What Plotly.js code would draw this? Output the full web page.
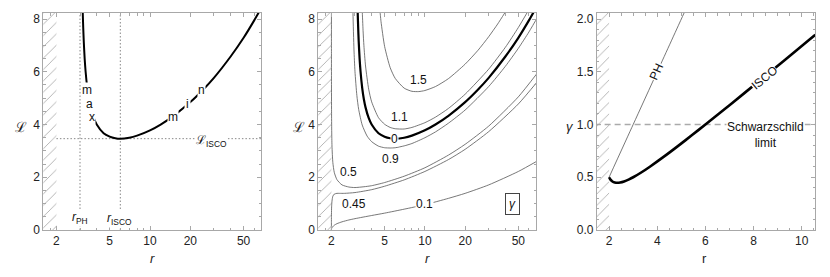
<!DOCTYPE html>
<html><head><meta charset="utf-8">
<script src="https://cdn.plot.ly/plotly-3.0.1.min.js"></script>
<style>body{margin:0;background:#fff}#plot{width:830px;height:277px}</style>
</head><body><div id="plot"></div>
<script>
// ---------- data ----------
// Panel 1 & 2: angular momentum L of circular orbits vs r, gamma = 1 (Schwarzschild)
const g1R = [3.14, 3.15, 3.17, 3.2, 3.25, 3.3, 3.4, 3.5, 3.6, 3.8, 4, 4.5, 5, 5.5, 6, 7, 8, 10, 12, 15, 20, 25, 30, 40, 50, 60, 70];
const g1L = [8.39, 8.13, 7.69, 7.16, 6.50, 6.03, 5.38, 4.95, 4.65, 4.25, 4.00, 3.67, 3.54, 3.48, 3.46, 3.50, 3.58, 3.78, 4.00, 4.33, 4.85, 5.33, 5.77, 6.58, 7.29, 7.95, 8.55];
// Panel 2 contours of gamma
const g15R = [4.6, 4.65, 4.7, 5, 5.5, 6, 7, 8, 9, 10, 12, 15, 20, 25, 30, 35, 40];
const g15L = [8.39, 8.13, 7.90, 6.96, 6.16, 5.75, 5.38, 5.26, 5.25, 5.29, 5.44, 5.74, 6.29, 6.82, 7.33, 7.81, 8.27];
const g11R = [3.38, 3.4, 3.45, 3.5, 3.6, 3.8, 4, 4.5, 5, 5.5, 6, 7, 8, 10, 12, 15, 20, 30, 40, 50, 60];
const g11L = [8.74, 8.34, 7.56, 6.99, 6.22, 5.34, 4.86, 4.26, 4.01, 3.89, 3.84, 3.83, 3.89, 4.07, 4.28, 4.61, 5.15, 6.10, 6.93, 7.68, 8.36];
const g09R = [2.88, 2.9, 2.95, 3, 3.1, 3.2, 3.4, 3.7, 4, 4.5, 5, 5.5, 6, 7, 8, 10, 12, 15, 20, 30, 40, 50, 60, 72];
const g09L = [9.10, 8.21, 6.83, 6.02, 5.10, 4.57, 3.98, 3.56, 3.35, 3.18, 3.12, 3.11, 3.12, 3.19, 3.28, 3.50, 3.72, 4.05, 4.55, 5.44, 6.21, 6.89, 7.51, 8.20];
const g05R = [2.0003, 2.0006, 2.001, 2.002, 2.005, 2.01, 2.02, 2.05, 2.1, 2.2, 2.4, 2.7, 3, 3.5, 4, 5, 7, 10, 15, 20, 30, 50, 70];
const g05L = [9.04, 7.60, 6.69, 5.63, 4.48, 3.77, 3.18, 2.56, 2.19, 1.91, 1.71, 1.63, 1.61, 1.64, 1.68, 1.80, 2.04, 2.36, 2.84, 3.25, 3.94, 5.05, 5.98];
const g045R = [2.0, 2.0001, 2.001, 2.005, 2.01, 2.02, 2.05, 2.1, 2.2, 2.3, 2.5, 3, 4, 5, 7, 10, 15, 20, 30, 50, 70];
const g045L = [0, 0.28, 0.52, 0.80, 0.95, 1.10, 1.28, 1.36, 1.39, 1.39, 1.39, 1.42, 1.53, 1.66, 1.90, 2.22, 2.67, 3.06, 3.73, 4.78, 5.65];
const g01R = [2.0, 2.001, 2.01, 2.05, 2.1, 2.2, 2.4, 2.7, 3, 4, 5, 7, 10, 15, 20, 30, 50, 70];
const g01L = [0, 0.02, 0.07, 0.13, 0.18, 0.24, 0.31, 0.38, 0.43, 0.55, 0.64, 0.79, 0.96, 1.20, 1.39, 1.71, 2.22, 2.63];
// Panel 1 reference values
const rPH = 3, rISCO = 6, LISCO = 3.464;
// Panel 3: gamma vs r for photon sphere and ISCO
const phR = [2, 3, 4, 5, 5.3];
const phG = [0.5, 1, 1.5, 2, 2.15];
const iscoR = [2.0, 2.05, 2.139, 2.238, 2.342, 2.462, 2.621, 2.830, 3.0, 3.366, 3.694, 4.304, 4.883, 5.446, 6.0, 7.09, 8.167, 9.235, 10.299, 10.564];
const iscoG = [0.5, 0.48, 0.46, 0.45, 0.4472, 0.45, 0.46, 0.48, 0.5, 0.55, 0.6, 0.7, 0.8, 0.9, 1.0, 1.2, 1.4, 1.6, 1.8, 1.85];
const schwG = 1.0;
// ticks
const rTicks = [2, 5, 10, 20, 50];
const rTickText = ['2', '5', '10', '20', '50'];
const rMinor = [1.6, 1.8, 3, 4, 6, 7, 8, 9, 30, 40, 60];
const LTicks = [0, 2, 4, 6, 8];
const r3Ticks = [2, 4, 6, 8, 10];
const gTicks = [0, 0.5, 1, 1.5, 2];
const gTickText = ['0.0', '0.5', '1.0', '1.5', '2.0'];
// contour labels
const contourLabels = ['1.5', '1.1', '0', '0.9', '0.5', '0.45', '0.1'];

// ---------- drawing ----------
const FONT = '"Liberation Sans", Arial, sans-serif';
const Lmax = 8.23, Gmax = 2.057;
const logRange = [0.203, 1.831];
const W = 830, H = 277;
const traces = [];

function hatch(xa, ya, x0, top) {
  traces.push({x: [x0, 2, 2, x0, x0], y: [0, 0, top, top, 0], xaxis: xa, yaxis: ya,
    mode: 'lines', fill: 'toself', fillcolor: 'white', line: {width: 0},
    fillpattern: {shape: '/', fgcolor: '#a4a4a4', bgcolor: 'white', size: 8, solidity: 0.1},
    hoverinfo: 'skip'});
}
function line(xa, ya, x, y, color, width, dash) {
  traces.push({x: x, y: y, xaxis: xa, yaxis: ya, mode: 'lines',
    line: {color: color, width: width, dash: dash || 'solid', shape: 'spline', smoothing: 0.6},
    hoverinfo: 'skip'});
}

// panel 1
hatch('x', 'y', 1.5, 9);
line('x', 'y', [rPH, rPH], [0, 9], '#888', 1, '1.5px,2px');
line('x', 'y', [rISCO, rISCO], [0, 9], '#888', 1, '1.5px,2px');
line('x', 'y', [2, 80], [LISCO, LISCO], '#888', 1, '1.5px,2px');
line('x', 'y', g1R, g1L, '#000', 2);
// panel 2
hatch('x2', 'y2', 1.5, 9);
const thin = '#555';
line('x2', 'y2', g15R, g15L, thin, 0.8);
line('x2', 'y2', g11R, g11L, thin, 0.8);
line('x2', 'y2', g09R, g09L, thin, 0.8);
line('x2', 'y2', g05R, g05L, thin, 0.8);
line('x2', 'y2', g045R, g045L, thin, 0.8);
line('x2', 'y2', g01R, g01L, thin, 0.8);
line('x2', 'y2', g1R, g1L, '#000', 2.2);
// panel 3
hatch('x3', 'y3', 1.4, 2.2);
line('x3', 'y3', [1.4, 11], [schwG, schwG], '#aaa', 1.5, '6px,4px');
line('x3', 'y3', phR, phG, thin, 0.8);
line('x3', 'y3', iscoR, iscoG, '#000', 2.6);

function axBase(extra) {
  return Object.assign({
    showline: true, linecolor: '#a8a8a8', linewidth: 1, mirror: 'ticks',
    ticks: 'inside', ticklen: 4, tickcolor: '#a8a8a8', tickwidth: 1,
    showgrid: false, zeroline: false, fixedrange: true,
    tickfont: {family: FONT, size: 12, color: '#222'}
  }, extra);
}
const yd = [1 - 230 / H, 1 - 13 / H];
function logX(domain, anchor) {
  return axBase({type: 'log', range: logRange, domain: domain, anchor: anchor,
    tickmode: 'array', tickvals: rTicks, ticktext: rTickText,
    minor: {tickmode: 'array', tickvals: rMinor, ticks: 'inside', ticklen: 2.5, tickcolor: '#a8a8a8'}});
}
function LY(anchor) {
  return axBase({range: [0, Lmax], domain: yd, anchor: anchor,
    tickmode: 'array', tickvals: LTicks, ticktext: LTicks.map(String),
    minor: {dtick: 0.5, ticks: 'inside', ticklen: 2.5, tickcolor: '#a8a8a8'}});
}

const ann = [];
function A(xref, yref, x, y, text, o) {
  ann.push(Object.assign({xref: xref, yref: yref, x: x, y: y, text: text, showarrow: false,
    font: {family: FONT, size: 12, color: '#111'}, xanchor: 'center', yanchor: 'middle',
    borderpad: 0}, o || {}));
}
const bg = {bgcolor: 'white'};
// axis titles
const P = (px, py, text, o) => A('paper', 'paper', px / W, 1 - py / H, text, o);
P(21, 127, 'ℒ', {font: {family: 'DejaVu Serif, serif', size: 14, color: '#222'}});
P(299, 127, 'ℒ', {font: {family: 'DejaVu Serif, serif', size: 14, color: '#222'}});
P(570, 126, '<i>γ</i>', {font: {family: FONT, size: 13, color: '#222'}});
P(152, 258, '<i>r</i>', {font: {family: FONT, size: 13, color: '#222'}});
P(427, 258, '<i>r</i>', {font: {family: FONT, size: 13, color: '#222'}});
P(704, 258, 'r', {font: {family: FONT, size: 13, color: '#222'}});
// panel 1 labels
A('x', 'y', 0.530, 5.31, 'm', bg);
A('x', 'y', 0.545, 4.77, 'a', bg);
A('x', 'y', 0.570, 4.30, 'x', bg);
A('x', 'y', 1.168, 4.30, 'm', bg);
A('x', 'y', 1.277, 4.78, 'i', Object.assign({borderpad: 1}, bg));
A('x', 'y', 1.385, 5.31, 'n', bg);
A('x', 'y', 1.459, 3.39, 'ℒ<sub>ISCO</sub>', bg);
A('x', 'y', 0.475, 0.44, '<i>r</i><sub>PH</sub>', bg);
A('x', 'y', 0.769, 0.41, '<i>r</i><sub>ISCO</sub>', bg);
// panel 2 labels
A('x2', 'y2', 0.953, 5.69, contourLabels[0]);
A('x2', 'y2', 0.811, 4.30, contourLabels[1]);
A('x2', 'y2', 0.774, 3.45, contourLabels[2], bg);
A('x2', 'y2', 0.742, 2.69, contourLabels[3]);
A('x2', 'y2', 0.430, 2.19, contourLabels[4]);
A('x2', 'y2', 0.468, 0.99, contourLabels[5]);
A('x2', 'y2', 0.996, 0.99, contourLabels[6], bg);
A('x2', 'y2', 1.656, 0.97, '<i>γ</i>', {bgcolor: 'white', bordercolor: '#444', borderwidth: 1, borderpad: 3});
// panel 3 labels
A('x3', 'y3', 3.954, 1.50, 'PH', Object.assign({textangle: -65.5}, bg));
A('x3', 'y3', 8.45, 1.44, 'ISCO', Object.assign({textangle: -39.3}, bg));
A('x3', 'y3', 8.5, 0.898, 'Schwarzschild<br>limit', bg);

const layout = {
  width: W, height: H, margin: {l: 0, r: 0, t: 0, b: 0}, autosize: false,
  paper_bgcolor: 'white', plot_bgcolor: 'white', showlegend: false,
  font: {family: FONT, size: 12, color: '#222'},
  xaxis: logX([43.3 / W, 261.3 / W], 'y'),
  yaxis: LY('x'),
  xaxis2: logX([318.3 / W, 536 / W], 'y2'),
  yaxis2: LY('x2'),
  xaxis3: axBase({range: [1.49, 10.55], domain: [596.8 / W, 815 / W], anchor: 'y3',
    tickmode: 'array', tickvals: r3Ticks, ticktext: r3Ticks.map(String),
    minor: {dtick: 0.5, ticks: 'inside', ticklen: 2.5, tickcolor: '#a8a8a8'}}),
  yaxis3: axBase({range: [0, Gmax], domain: yd, anchor: 'x3',
    tickmode: 'array', tickvals: gTicks, ticktext: gTickText,
    minor: {dtick: 0.1, ticks: 'inside', ticklen: 2.5, tickcolor: '#a8a8a8'}}),
  annotations: ann
};
Plotly.newPlot('plot', traces, layout, {staticPlot: true, displayModeBar: false});
</script></body></html>
